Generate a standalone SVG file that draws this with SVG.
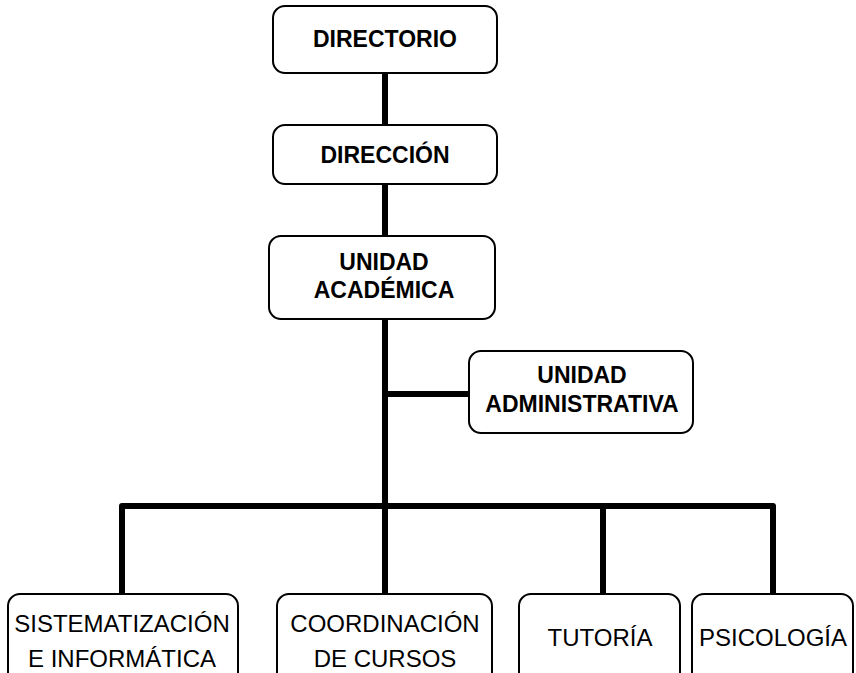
<svg xmlns="http://www.w3.org/2000/svg" width="856" height="673" viewBox="0 0 856 673">
<style>
.box{fill:#fff;stroke:#000;stroke-width:2}
.ln{stroke:#000;stroke-width:6;fill:none;stroke-linejoin:round}
.b{font-family:"Liberation Sans",Arial,sans-serif;font-weight:bold;font-size:23px;text-anchor:middle;fill:#000}
.r{font-family:"Liberation Sans",Arial,sans-serif;font-size:24px;text-anchor:middle;fill:#000}
</style>
<rect width="856" height="673" fill="#fff"/>
<g id="connectors">
<line class="ln" x1="385" y1="73" x2="385" y2="125"/>
<line class="ln" x1="385" y1="184" x2="385" y2="236"/>
<line class="ln" x1="385" y1="319" x2="385" y2="506"/>
<line class="ln" x1="385" y1="394" x2="469" y2="394"/>
<path class="ln" d="M122,594 V506 H773 V594"/>
<line class="ln" x1="385" y1="506" x2="385" y2="594"/>
<line class="ln" x1="603" y1="506" x2="603" y2="594"/>
</g>
<g id="directorio">
<rect class="box" x="273" y="6" width="224" height="67" rx="12"/>
<text class="b" x="385" y="47">DIRECTORIO</text>
</g>
<g id="direccion">
<rect class="box" x="273" y="125" width="224" height="59" rx="12"/>
<text class="b" x="385" y="163">DIRECCIÓN</text>
</g>
<g id="unidad-academica">
<rect class="box" x="269" y="236" width="226" height="83" rx="12"/>
<text class="b" x="384" y="270">UNIDAD</text>
<text class="b" x="384" y="298">ACADÉMICA</text>
</g>
<g id="unidad-administrativa">
<rect class="box" x="469" y="351" width="224" height="82" rx="12"/>
<text class="b" x="582" y="383">UNIDAD</text>
<text class="b" x="582" y="412">ADMINISTRATIVA</text>
</g>
<g id="sistematizacion">
<rect class="box" x="8" y="594" width="230" height="100" rx="12"/>
<text class="r" x="122" y="632">SISTEMATIZACIÓN</text>
<text class="r" x="122" y="667">E INFORMÁTICA</text>
</g>
<g id="coordinacion">
<rect class="box" x="277" y="594" width="215" height="100" rx="12"/>
<text class="r" x="385" y="632">COORDINACIÓN</text>
<text class="r" x="385" y="667">DE CURSOS</text>
</g>
<g id="tutoria">
<rect class="box" x="519" y="594" width="161" height="100" rx="12"/>
<text class="r" x="600" y="646">TUTORÍA</text>
</g>
<g id="psicologia">
<rect class="box" x="692" y="594" width="161" height="100" rx="12"/>
<text class="r" x="773" y="646">PSICOLOGÍA</text>
</g>
</svg>
